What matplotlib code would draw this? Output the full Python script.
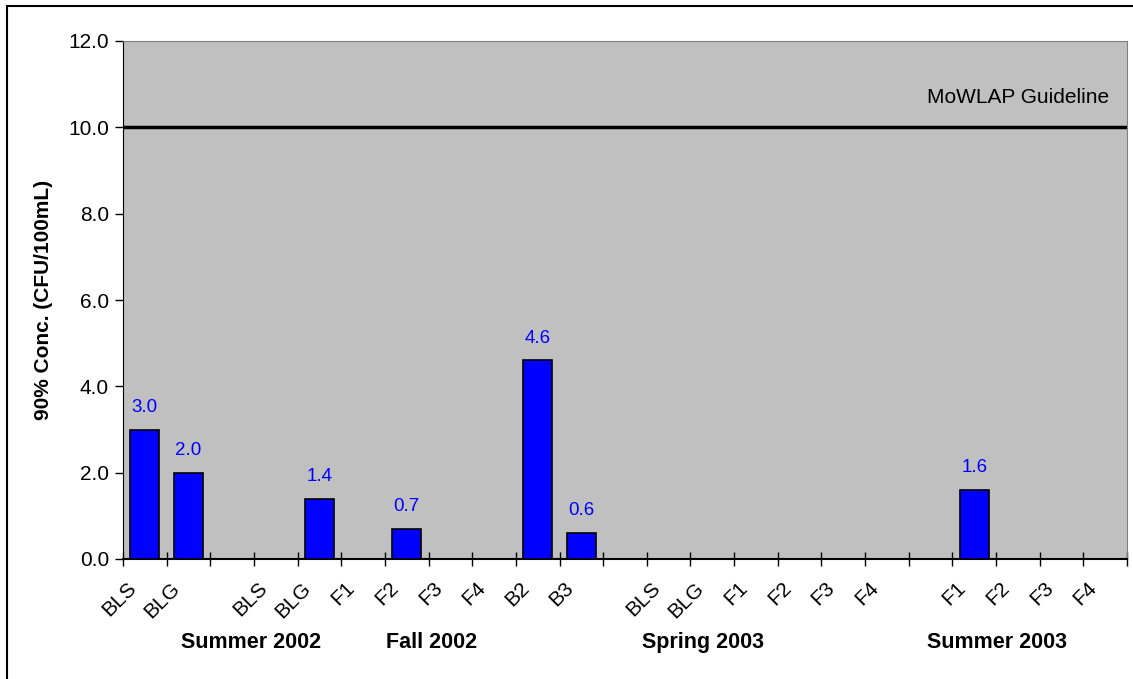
import matplotlib
matplotlib.use("Agg")
import matplotlib.pyplot as plt
import matplotlib.patches as patches
import matplotlib.transforms as mtransforms
import numpy as np

# data
categories = ["BLS", "BLG", "", "BLS", "BLG", "F1", "F2", "F3", "F4", "B2", "B3", "",
              "BLS", "BLG", "F1", "F2", "F3", "F4", "", "F1", "F2", "F3", "F4"]
values = [3.0, 2.0, np.nan, np.nan, 1.4, np.nan, 0.7, np.nan, np.nan, 4.6, 0.6, np.nan,
          np.nan, np.nan, np.nan, np.nan, np.nan, np.nan, np.nan, 1.6, np.nan, np.nan, np.nan]
groups = ["Summer 2002", "Fall 2002", "Spring 2003", "Summer 2003"]
group_x = [2.43, 6.58, 12.79, 19.52]
guideline = 10.0
yticks = [0, 2, 4, 6, 8, 10, 12]

plt.rcParams["font.family"] = ["Liberation Sans", "DejaVu Sans"]

fig = plt.figure(figsize=(11.33, 6.79), dpi=100, facecolor="white")
ax = fig.add_axes([123 / 1133, 1 - 559 / 679, 1004 / 1133, 518 / 679])
ax.set_facecolor("#C0C0C0")

x = np.arange(len(categories))
ax.bar(x, values, width=0.66, color="#0000FF", edgecolor="black", linewidth=1.2, zorder=3)
for xi, v in zip(x, values):
    if not np.isnan(v):
        ax.annotate(f"{v:.1f}", (xi, v), xytext=(0, 10), textcoords="offset points",
                    ha="center", va="bottom", color="#0000FF", fontsize=13.5)

ax.axhline(guideline, color="black", linewidth=2.5, zorder=2)
ax.text(0.982, 10.7, "MoWLAP Guideline", transform=mtransforms.blended_transform_factory(ax.transAxes, ax.transData),
        ha="right", va="center", fontsize=15)

ax.set_xlim(-0.5, len(categories) - 0.5)
ax.set_ylim(0, 12)
ax.set_yticks(yticks)
ax.set_yticklabels([f"{t:.1f}" for t in yticks], fontsize=15)
ax.tick_params(axis="y", direction="out", length=6, width=1, pad=4)

ax.set_xticks(np.arange(len(categories) + 1) - 0.5, minor=False)
ax.set_xticklabels([])
ax.set_xticks(x, minor=True)
ax.set_xticklabels(categories, minor=True, rotation=45, ha="right", rotation_mode="anchor", fontsize=15)
ax.tick_params(axis="x", which="major", direction="inout", length=10, width=1)
ax.tick_params(axis="x", which="minor", length=0, pad=14)
shift = mtransforms.ScaledTranslation(-18 / 100, 0, fig.dpi_scale_trans)
for lbl in ax.get_xticklabels(minor=True):
    lbl.set_transform(lbl.get_transform() + shift)

for side in ["top", "right"]:
    ax.spines[side].set_color("#808080")
ax.spines["left"].set_color("black")
ax.spines["bottom"].set_color("black")
ax.spines["bottom"].set_linewidth(1.5)

ax.set_ylabel("90% Conc. (CFU/100mL)", fontsize=15, fontweight="bold", labelpad=11)

gtrans = mtransforms.blended_transform_factory(ax.transData, ax.transAxes)
for gx, g in zip(group_x, groups):
    ax.text(gx, -0.162, g, transform=gtrans, ha="center", va="center", fontsize=15.5, fontweight="bold")

# outer chart border (clipped on right and bottom)
fig.patches.append(patches.Rectangle((7 / 1133, -0.1), 2, 1 - 6 / 679 + 0.1, transform=fig.transFigure,
                                     fill=False, edgecolor="black", linewidth=1.5))

fig.savefig("out.png", dpi=100, facecolor="white")
